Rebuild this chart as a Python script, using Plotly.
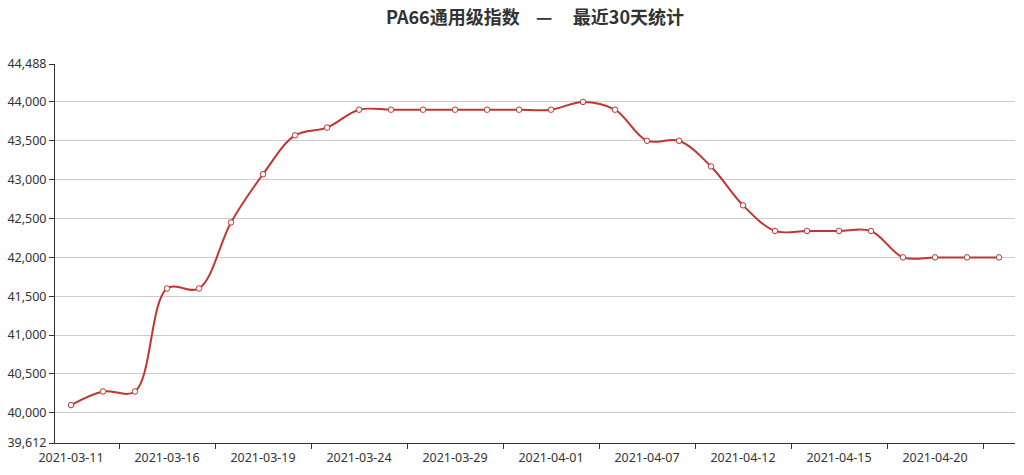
import plotly.graph_objects as go

dates = ["2021-03-11", "2021-03-12", "2021-03-15", "2021-03-16", "2021-03-17", "2021-03-18",
         "2021-03-19", "2021-03-22", "2021-03-23", "2021-03-24", "2021-03-25", "2021-03-26",
         "2021-03-29", "2021-03-30", "2021-03-31", "2021-04-01", "2021-04-02", "2021-04-06",
         "2021-04-07", "2021-04-08", "2021-04-09", "2021-04-12", "2021-04-13", "2021-04-14",
         "2021-04-15", "2021-04-16", "2021-04-19", "2021-04-20", "2021-04-21", "2021-04-22"]
values = [40100, 40275, 40275, 41600, 41600, 42450,
          43070, 43570, 43670, 43900, 43900, 43900,
          43900, 43900, 43900, 43900, 44000, 43900,
          43500, 43500, 43170, 42670, 42340, 42340,
          42340, 42340, 42000, 42000, 42000, 42000]
y_min = 39612
y_max = 44488
y_ticks = [39612, 40000, 40500, 41000, 41500, 42000, 42500, 43000, 43500, 44000, 44488]
label_every = 3
title_text = "PA66通用级指数" + "\u00a0" * 4 + "—" + "\u00a0" * 5 + "最近30天统计"

idx = list(range(len(dates)))
label_idx = idx[::label_every]
label_txt = [dates[i] for i in label_idx]
boundary_ticks = [i + 1.5 for i in label_idx]

tick_font = dict(family="Noto Sans", size=12.5, color="#333")
fig = go.Figure()
fig.add_trace(go.Scatter(
    x=idx, y=values, mode="lines+markers",
    line=dict(color="#c23531", width=2, shape="spline", smoothing=1.0),
    marker=dict(symbol="circle", size=5.5, color="white",
                line=dict(color="#c23531", width=1)),
    hoverinfo="skip", showlegend=False,
))
# invisible trace on second x axis to hold boundary ticks
fig.add_trace(go.Scatter(x=[idx[0], idx[-1]], y=[y_min, y_min], xaxis="x2",
                         mode="markers", marker=dict(opacity=0), hoverinfo="skip",
                         showlegend=False))

fig.update_layout(
    width=1024, height=475,
    margin=dict(l=55, r=9, t=64, b=32),
    paper_bgcolor="white", plot_bgcolor="white",
    font=dict(family="Noto Sans", size=12, color="#333"),
    title=dict(text="<b>" + title_text + "</b>",
               x=0.5, xref="paper", xanchor="center",
               y=1 - 18 / 475, yref="container", yanchor="middle",
               automargin=False,
               font=dict(family="Noto Sans CJK SC", size=18, color="#333")),
    xaxis=dict(range=[-0.5, len(dates) - 0.5], tickmode="array", automargin=False,
               tickvals=label_idx, ticktext=label_txt, ticks="", showgrid=False,
               zeroline=False, showline=True, linecolor="#333", linewidth=1,
               ticklabelstandoff=3, tickfont=tick_font),
    xaxis2=dict(range=[-0.5, len(dates) - 0.5], overlaying="x", side="bottom",
                automargin=False,
                tickmode="array", tickvals=boundary_ticks, ticktext=[""] * len(boundary_ticks),
                ticks="outside", ticklen=5, tickcolor="#333", showgrid=False,
                zeroline=False, showline=False, showticklabels=False),
    yaxis=dict(range=[y_min, y_max], tickmode="array", tickvals=y_ticks, automargin=False,
               ticktext=[f"{v:,}" for v in y_ticks], ticks="outside", ticklen=5,
               tickcolor="#333", showgrid=True, gridcolor="#ccc", gridwidth=1,
               zeroline=False, showline=True, linecolor="#333", linewidth=1,
               tickfont=tick_font),
)
fig.write_html("out.html", config={"displayModeBar": False},
               post_script="document.body.style.margin='0';document.body.style.overflow='hidden';")
